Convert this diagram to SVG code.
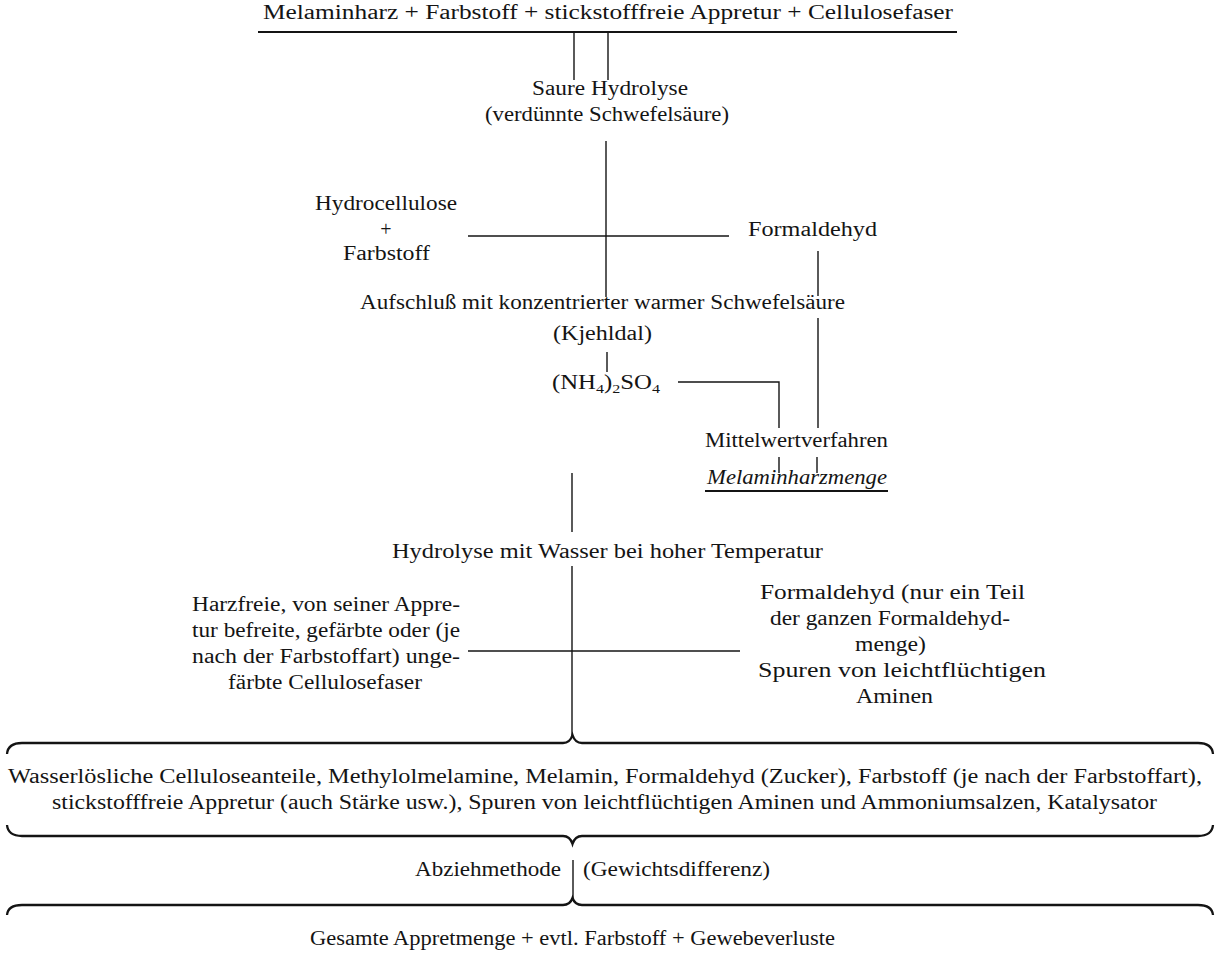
<svg xmlns="http://www.w3.org/2000/svg" width="1217" height="961" viewBox="0 0 1217 961">
<style>
text{font-family:"Liberation Serif","Times New Roman",serif;font-size:20px;fill:#141414}
.it{font-style:italic}
.ln{stroke:#141414;stroke-width:1.4;fill:none}
.ul{stroke:#141414;stroke-width:1.8;fill:none}
.br{stroke:#141414;stroke-width:2.3;fill:none}
.sub{font-size:13px}
</style>
<rect width="1217" height="961" fill="#fff"/>
<g id="connectors">
<path class="ul" d="M258 32H957"/>
<path class="ln" d="M574 33V80M608 33V80"/>
<path class="ln" d="M606 141V297"/>
<path class="ln" d="M468 236H729"/>
<path class="ln" d="M818 251V296M818 318V428"/>
<path class="ln" d="M607 352V372"/>
<path class="ln" d="M678 382H779V428"/>
<path class="ln" d="M779 457V473M817 457V473"/>
<path class="ul" d="M705 491H888"/>
<path class="ln" d="M572 473V532M572 566V736"/>
<path class="ln" d="M468 651H740"/>
<path class="br" d="M7 754Q8 743 22 743H563Q570 743 572.5 735Q575 743 582 743H1198Q1212 743 1213 754"/>
<path class="br" d="M7 825Q8 836 22 836H563Q570 836 572.5 844Q575 836 582 836H1198Q1212 836 1213 825"/>
<path class="ln" d="M573 860V898"/>
<path class="br" d="M7 915Q8 905 22 905H563Q570 905 572.5 898Q575 905 582 905H1198Q1212 905 1213 915"/>
</g>
<g id="n-start"><text x="263" y="19" textLength="690" lengthAdjust="spacingAndGlyphs">Melaminharz + Farbstoff + stickstofffreie Appretur + Cellulosefaser</text></g>
<g id="n-saure"><text x="532" y="95" textLength="156" lengthAdjust="spacingAndGlyphs">Saure Hydrolyse</text>
<text x="485" y="121" textLength="244" lengthAdjust="spacingAndGlyphs">(verdünnte Schwefelsäure)</text></g>
<g id="n-hydrocellulose"><text x="315" y="210" textLength="142" lengthAdjust="spacingAndGlyphs">Hydrocellulose</text>
<text x="386" y="236" text-anchor="middle">+</text>
<text x="343" y="260" textLength="87" lengthAdjust="spacingAndGlyphs">Farbstoff</text></g>
<g id="n-formaldehyd"><text x="748" y="236" textLength="129" lengthAdjust="spacingAndGlyphs">Formaldehyd</text></g>
<g id="n-aufschluss"><text x="360" y="309" textLength="485" lengthAdjust="spacingAndGlyphs">Aufschluß mit konzentrierter warmer Schwefelsäure</text>
<text x="553" y="340" textLength="99" lengthAdjust="spacingAndGlyphs">(Kjehldal)</text></g>
<g id="n-nh4"><text x="552" y="389" textLength="108" lengthAdjust="spacingAndGlyphs">(NH<tspan class="sub" dy="4">4</tspan><tspan dy="-4">)</tspan><tspan class="sub" dy="4">2</tspan><tspan dy="-4">SO</tspan><tspan class="sub" dy="4">4</tspan></text></g>
<g id="n-mittelwert"><text x="705" y="447" textLength="183" lengthAdjust="spacingAndGlyphs">Mittelwertverfahren</text></g>
<g id="n-menge"><text class="it" x="707" y="484" textLength="180" lengthAdjust="spacingAndGlyphs">Melaminharzmenge</text></g>
<g id="n-hydrolyse"><text x="392" y="558" textLength="431" lengthAdjust="spacingAndGlyphs">Hydrolyse mit Wasser bei hoher Temperatur</text></g>
<g id="n-harzfrei">
<text x="192" y="611" textLength="268" lengthAdjust="spacingAndGlyphs">Harzfreie, von seiner Appre-</text>
<text x="192" y="637" textLength="268" lengthAdjust="spacingAndGlyphs">tur befreite, gefärbte oder (je</text>
<text x="192" y="663" textLength="268" lengthAdjust="spacingAndGlyphs">nach der Farbstoffart) unge-</text>
<text x="228" y="689" textLength="194" lengthAdjust="spacingAndGlyphs">färbte Cellulosefaser</text>
</g>
<g id="n-formteil">
<text x="760" y="599" textLength="265" lengthAdjust="spacingAndGlyphs">Formaldehyd (nur ein Teil</text>
<text x="770" y="625" textLength="240" lengthAdjust="spacingAndGlyphs">der ganzen Formaldehyd-</text>
<text x="855" y="651" textLength="71" lengthAdjust="spacingAndGlyphs">menge)</text>
<text x="758" y="677" textLength="288" lengthAdjust="spacingAndGlyphs">Spuren von leichtflüchtigen</text>
<text x="856" y="703" textLength="77" lengthAdjust="spacingAndGlyphs">Aminen</text>
</g>
<g id="n-wasserloeslich">
<text x="8" y="783" textLength="1194" lengthAdjust="spacingAndGlyphs">Wasserlösliche Celluloseanteile, Methylolmelamine, Melamin, Formaldehyd (Zucker), Farbstoff (je nach der Farbstoffart),</text>
<text x="52" y="809" textLength="1105" lengthAdjust="spacingAndGlyphs">stickstofffreie Appretur (auch Stärke usw.), Spuren von leichtflüchtigen Aminen und Ammoniumsalzen, Katalysator</text>
</g>
<g id="n-abzieh">
<text x="415" y="876" textLength="146" lengthAdjust="spacingAndGlyphs">Abziehmethode</text>
<text x="583" y="876" textLength="187" lengthAdjust="spacingAndGlyphs">(Gewichtsdifferenz)</text>
</g>
<g id="n-gesamt"><text x="310" y="945" textLength="525" lengthAdjust="spacingAndGlyphs">Gesamte Appretmenge + evtl. Farbstoff + Gewebeverluste</text></g>
</svg>
